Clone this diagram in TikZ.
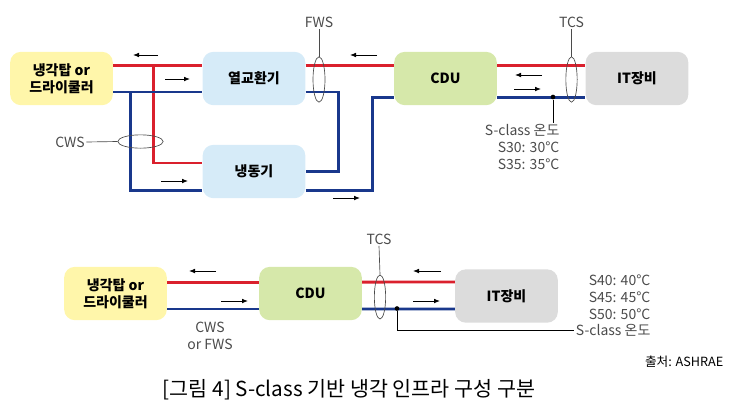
\documentclass[tikz,border=0pt]{standalone}
\usepackage{fontspec}
\setmainfont{Noto Sans CJK KR}
\usepackage{xcolor}
\usetikzlibrary{arrows.meta, shapes.geometric}
\definecolor{pipered}{RGB}{218,32,45}
\definecolor{pipeblue}{RGB}{25,56,140}
\definecolor{towerfill}{RGB}{255,246,170}
\definecolor{hxfill}{RGB}{214,235,248}
\definecolor{cdufill}{RGB}{214,232,170}
\definecolor{itfill}{RGB}{220,220,220}
\definecolor{labelgray}{RGB}{75,75,75}
\newcommand{\unitfont}{\fontsize{10.5}{12.75}\selectfont\bfseries}
\newcommand{\lblfont}{\fontsize{10.5}{12.6}\selectfont}

\begin{document}
\begin{tikzpicture}[
  x=0.75pt, y=-0.75pt,
  every node/.style = {font=\lblfont},
  unit/.style = {rounded corners=8pt, minimum width=77pt, minimum height=40pt, inner sep=0pt, align=center, font=\unitfont},
  redpipe/.style = {draw=pipered, line width=2.2pt},
  bluepipe/.style = {draw=pipeblue, line width=2.2pt},
  flow/.style = {-{Latex[length=4.5pt, width=3.5pt]}, line width=0.6pt},
  ring/.style = {draw=labelgray, ellipse, inner sep=0pt, line width=0.5pt},
  lbl/.style = {text=labelgray, inner sep=1pt},
  tag/.style = {draw=labelgray, line width=0.5pt},
  dot/.style = {circle, fill=black, inner sep=0pt, minimum size=3.5pt},
  >=Latex
]
  \useasboundingbox (0,0) rectangle (742,408);

  % top: chiller plant
  \node[unit, fill=towerfill] (ct1) at (61.5,78.5) {냉각탑 or\\드라이쿨러};
  \node[unit, fill=hxfill] (hx) at (254,78.5) {열교환기};
  \node[unit, fill=hxfill] (ch) at (254,171.5) {냉동기};
  \node[unit, fill=cdufill] (cdu1) at (445.5,78.5) {CDU};
  \node[unit, fill=itfill] (it1) at (637,78.5) {IT장비};

  \draw[redpipe] ([yshift=10.1pt]ct1.east) -- ([yshift=10.1pt]hx.west);
  \draw[redpipe] ([xshift=30pt,yshift=10.1pt]ct1.east) |- ([yshift=6.4pt]ch.west);
  \draw[bluepipe] ([yshift=-10.1pt]ct1.east) -- ([yshift=-10.1pt]hx.west);
  \draw[bluepipe] ([xshift=12.75pt,yshift=-10.1pt]ct1.east) |- ([yshift=-13.9pt]ch.west);
  \draw[redpipe] ([yshift=10.1pt]hx.east) -- ([yshift=10.1pt]cdu1.west);
  \draw[bluepipe] ([yshift=-10.1pt]hx.east) -- ++(33,0) |- (ch.east);
  \draw[bluepipe] ([yshift=-13.9pt]ch.east) -- ++(67,0) |- ([yshift=-13.9pt]cdu1.west);
  \draw[redpipe] ([yshift=10.1pt]cdu1.east) -- ([yshift=10.1pt]it1.west);
  \draw[bluepipe] ([yshift=-13.9pt]cdu1.east) -- ([yshift=-13.9pt]it1.west);

  \draw[flow] (158,55) -- (133,55);
  \draw[flow] (165,79) -- (190,79);
  \draw[flow] (161,181) -- (188,181);
  \draw[flow] (333,198) -- (360,198);
  \draw[flow] (377,55) -- (350,55);
  \draw[flow] (542,75) -- (515,75);
  \draw[flow] (514,89) -- (541,89);

  \node[lbl] (fws) at (319,22) {FWS};
  \node[ring, minimum width=9pt, minimum height=34pt] (fwsring) at (319,79.5) {};
  \draw[tag] (fws.south) -- (fwsring.north);
  \node[lbl] (cws) at (70,142) {CWS};
  \node[ring, minimum width=34pt, minimum height=10pt] (cwsring) at (140.5,141.5) {};
  \draw[tag] (cws.east) -- (cwsring.west);
  \node[lbl] (tcs1) at (571.5,22) {TCS};
  \node[ring, minimum width=8.5pt, minimum height=34pt] (tcsring1) at (571.5,79.5) {};
  \draw[tag] (tcs1.south) -- (tcsring1.north);

  \node[dot] (s1dot) at (553,97) {};
  \node[lbl, align=right, anchor=north east] (s1text) at (561,123) {S-class 온도\\S30: 30°C\\S35: 35°C};
  \draw[line width=0.6pt] (s1dot) -- (s1dot |- s1text.north);

  % bottom: direct loop
  \node[unit, fill=towerfill] (ct2) at (115.5,293.5) {냉각탑 or\\드라이쿨러};
  \node[unit, fill=cdufill] (cdu2) at (310.5,293.5) {CDU};
  \node[unit, fill=itfill] (it2) at (506.5,296) {IT장비};

  \draw[redpipe] ([yshift=8.6pt]ct2.east) -- ([yshift=8.6pt]cdu2.west);
  \draw[bluepipe] ([yshift=-11.6pt]ct2.east) -- ([yshift=-11.6pt]cdu2.west);
  \draw[redpipe] ([yshift=8.6pt]cdu2.east) -- ([yshift=10.5pt]it2.west);
  \draw[bluepipe] ([yshift=-11.6pt]cdu2.east) -- ([yshift=-9.75pt]it2.west);

  \draw[flow] (216,271) -- (189,271);
  \draw[flow] (221,301) -- (248,301);
  \draw[flow] (441,271) -- (413,271);
  \draw[flow] (413,301) -- (440,301);

  \node[lbl, align=center] (cwsfws) at (210,335.5) {CWS\\or FWS};
  \node[lbl] (tcs2) at (379,239) {TCS};
  \node[ring, minimum width=8.5pt, minimum height=33pt] (tcsring2) at (380,297) {};
  \draw[tag] (tcs2.south) -- (tcsring2.north);

  \node[dot] (s2dot) at (397,308.5) {};
  \node[lbl, anchor=east] (s2text) at (652,330) {S-class 온도};
  \node[lbl, align=right, anchor=south east] (s2temps) at (652,321) {S40: 40°C\\S45: 45°C\\S50: 50°C};
  \draw[line width=0.6pt] (s2dot) |- (s2text.west);

  \node[anchor=east, font=\fontsize{9.5}{11}\selectfont] (src) at (728,362) {출처: ASHRAE};
  \node[font=\fontsize{15.5}{18}\selectfont] (caption) at (349,390) {[그림 4] S-class 기반 냉각 인프라 구성 구분};
\end{tikzpicture}
\end{document}
